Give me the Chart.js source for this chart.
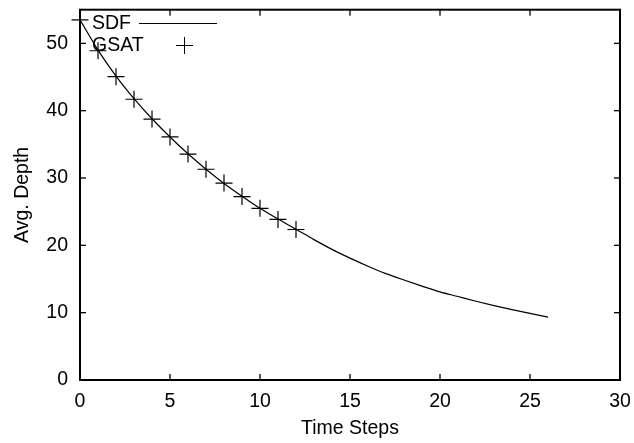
<!DOCTYPE html>
<html><head><meta charset="utf-8">
<script src="https://cdn.jsdelivr.net/npm/chart.js@4.4.0/dist/chart.umd.min.js"></script>
<style>html,body{margin:0;padding:0;background:#fff}canvas{display:block}</style>
</head><body>
<canvas id="c" width="634" height="443"></canvas>
<script>
const seriesNames = ['SDF', 'GSAT'];
const axisTitles = { x: 'Time Steps', y: 'Avg. Depth' };
const xTicks = [0, 5, 10, 15, 20, 25, 30];
const yTicks = [0, 10, 20, 30, 40, 50];
const gsatSteps = [0, 1, 2, 3, 4, 5, 6, 7, 8, 9, 10, 11, 12];
const gsatDepth = [53.5, 48.9, 45.05, 41.7, 38.75, 36.1, 33.55, 31.3, 29.25, 27.25, 25.5, 23.85, 22.35];
const sdfSteps = [0, 1, 2, 3, 4, 5, 6, 7, 8, 9, 10, 11, 12, 13, 14, 15, 16, 17, 18, 19, 20, 21, 22, 23, 24, 25, 26];
const sdfDepth = [53.5, 49.0, 45.15, 41.8, 38.8, 36.1, 33.6, 31.3, 29.2, 27.3, 25.5, 23.9, 22.4, 20.85, 19.4, 18.1, 16.9, 15.8, 14.85, 13.95, 13.1, 12.4, 11.7, 11.05, 10.45, 9.9, 9.35];

const FONT = '"Liberation Sans", Arial, Helvetica, sans-serif';
const FS = 19.5;
Chart.defaults.font.family = FONT;
Chart.defaults.color = '#000';

const framePlugin = {
  id: 'frame',
  afterDatasetsDraw(chart) {
    const { ctx, chartArea: a, scales: { x, y } } = chart;
    ctx.save();
    ctx.strokeStyle = '#000';
    const seg = (x1, y1, x2, y2) => { ctx.beginPath(); ctx.moveTo(x1, y1); ctx.lineTo(x2, y2); ctx.stroke(); };
    ctx.lineWidth = 1.3;
    const TL = 6;
    x.ticks.forEach(t => {
      const p = x.getPixelForValue(t.value);
      seg(p, a.bottom, p, a.bottom - TL);
      seg(p, a.top, p, a.top + TL);
    });
    y.ticks.forEach(t => {
      const p = y.getPixelForValue(t.value);
      seg(a.left, p, a.left + TL, p);
      seg(a.right, p, a.right - TL, p);
    });
    ctx.lineWidth = 2;
    ctx.strokeRect(a.left, a.top, a.right - a.left, a.bottom - a.top);
    // key
    ctx.fillStyle = '#000';
    ctx.font = FS + 'px ' + FONT;
    ctx.textAlign = 'left';
    ctx.textBaseline = 'middle';
    ctx.fillText(seriesNames[0], 92, 23.5);
    ctx.fillText(seriesNames[1], 92, 45.5);
    ctx.lineWidth = 1;
    seg(139, 23.5, 217, 23.5);
    const cx = 184.5, cy = 45.5, r = 8.5;
    seg(cx - r, cy, cx + r, cy);
    seg(cx, cy - r, cx, cy + r);
    ctx.restore();
  }
};

new Chart(document.getElementById('c'), {
  type: 'scatter',
  data: {
    datasets: [
      {
        label: seriesNames[0], type: 'line',
        data: sdfSteps.map((s, i) => ({ x: s, y: sdfDepth[i] })),
        borderColor: '#000', borderWidth: 1.2, pointRadius: 0, fill: false,
        cubicInterpolationMode: 'monotone'
      },
      {
        label: seriesNames[1], type: 'scatter',
        data: gsatSteps.map((s, i) => ({ x: s, y: gsatDepth[i] })),
        pointStyle: 'cross', pointRadius: 8.5, borderColor: '#000', backgroundColor: '#000',
        borderWidth: 1.2, showLine: false, clip: false
      }
    ]
  },
  options: {
    responsive: false, animation: false, devicePixelRatio: 1, events: [],
    layout: { padding: { top: 7, right: 14, left: 0, bottom: 0 } },
    plugins: { legend: { display: false }, tooltip: { enabled: false } },
    scales: {
      x: {
        type: 'linear', min: 0, max: 30,
        afterBuildTicks: s => { s.ticks = xTicks.map(v => ({ value: v })); },
        afterFit: s => { s.height = 63; s.paddingLeft = 0; s.paddingRight = 0; },
        grid: { display: false }, border: { display: false },
        ticks: { color: '#000', padding: 2, font: { size: FS }, maxRotation: 0, autoSkip: false },
        title: { display: true, text: axisTitles.x, color: '#000', font: { size: FS }, padding: { top: 0, bottom: 3 } }
      },
      y: {
        type: 'linear', min: 0, max: 55,
        afterBuildTicks: s => { s.ticks = yTicks.map(v => ({ value: v })); },
        afterFit: s => { s.width = 80; s.paddingTop = 0; s.paddingBottom = 0; },
        grid: { display: false }, border: { display: false },
        ticks: { color: '#000', padding: 4, font: { size: FS }, autoSkip: false },
        title: { display: true, text: axisTitles.y, color: '#000', font: { size: FS }, padding: { top: 11, bottom: 0 } }
      }
    }
  },
  plugins: [framePlugin]
});
</script>
</body></html>
